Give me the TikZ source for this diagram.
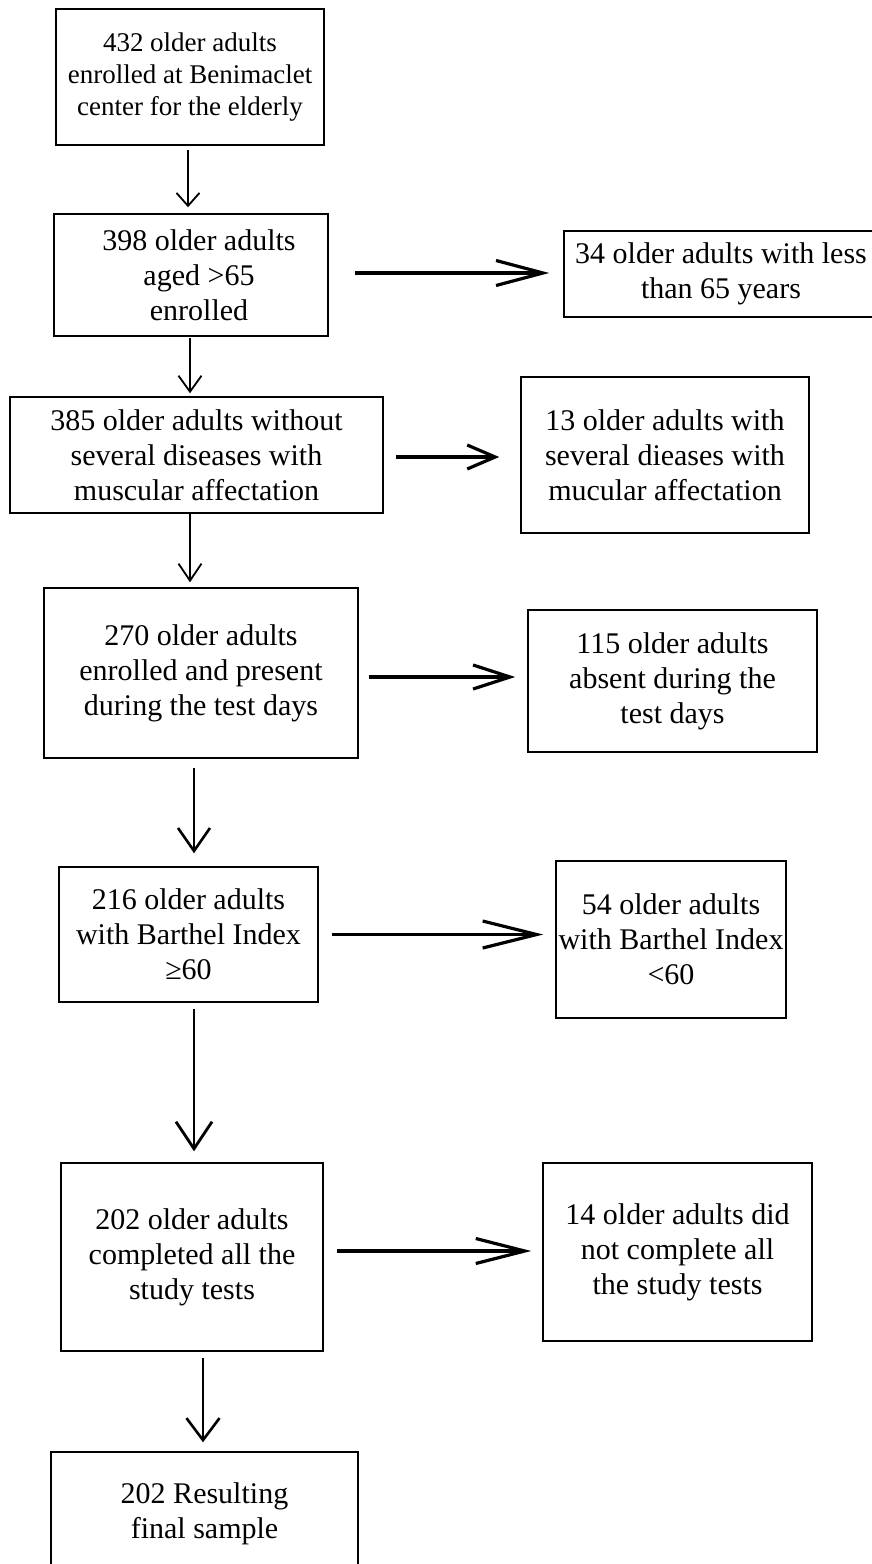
\documentclass[tikz,border=0pt]{standalone}
\usepackage{fontspec}
\setmainfont{Liberation Serif}
\usetikzlibrary{arrows.meta,calc}
\begin{document}
\begin{tikzpicture}[x=1pt,y=-1pt,
  box/.style={draw, line width=1.5pt, inner sep=0pt, align=center,
    font=\fontsize{30pt}{35pt}\selectfont},
  dnarr/.style n args={3}{line width=#3, -{Straight Barb[length=#1, width=#2]}},
]
\useasboundingbox (0,0) rectangle (872,1564);

% left column
\node[box, minimum width=268pt, minimum height=136pt, font=\fontsize{27pt}{32pt}\selectfont] (b1) at (190,77)
  {432 older adults\\enrolled at Benimaclet\\center for the elderly};
\node[box, minimum width=274pt, minimum height=122pt] (b2) at (191,275)
  {\hspace*{16pt}398 older adults\\\hspace*{16pt}aged >65\\\hspace*{16pt}enrolled};
\node[box, minimum width=373pt, minimum height=116pt] (b3) at (196.5,455)
  {385 older adults without\\several diseases with\\muscular affectation};
\node[box, minimum width=314pt, minimum height=170pt] (b4) at (201,673)
  {270 older adults\\enrolled and present\\during the test days};
\node[box, minimum width=259pt, minimum height=135pt] (b5) at (188.5,934.5)
  {216 older adults\\with Barthel Index\\≥60};
\node[box, minimum width=262pt, minimum height=188pt] (b6) at (192,1257)
  {202 older adults\\completed all the\\study tests};
\node[box, minimum width=307pt, minimum height=124pt] (b7) at (204.5,1514)
  {202 Resulting\\final sample};

% right column
\node[box, minimum width=314pt, minimum height=86pt] (r1) at (721,274)
  {34 older adults with less\\than 65 years};
\node[box, minimum width=288pt, minimum height=156pt] (r2) at (665,455)
  {13 older adults with\\several dieases with\\mucular affectation};
\node[box, minimum width=289pt, minimum height=142pt] (r3) at (672.5,681)
  {115 older adults\\absent during the\\test days};
\node[box, minimum width=230pt, minimum height=157pt] (r4) at (671,939.5)
  {54 older adults\\with Barthel Index\\<60};
\node[box, minimum width=269pt, minimum height=178pt] (r5) at (677.5,1252)
  {14 older adults did\\not complete all\\the study tests};

% downward connectors
\draw[dnarr={13pt}{23pt}{1.8pt}, shorten <=4pt, shorten >=6pt]
  ([xshift=-2pt]b1.south) -- ([xshift=-2pt]b1.south |- b2.north);
\draw[dnarr={16pt}{23pt}{1.8pt}, shorten <=1pt, shorten >=3pt]
  ([xshift=-1pt]b2.south) -- ([xshift=-1pt]b2.south |- b3.north);
\draw[dnarr={17pt}{23pt}{1.8pt}, shorten <=0pt, shorten >=5pt]
  ([xshift=-6.5pt]b3.south) -- ([xshift=-6.5pt]b3.south |- b4.north);
\draw[dnarr={23pt}{32pt}{2.6pt}, shorten <=9pt, shorten >=13pt]
  ([xshift=-7pt]b4.south) -- ([xshift=-7pt]b4.south |- b5.north);
\draw[dnarr={27pt}{36pt}{2.8pt}, shorten <=6pt, shorten >=11pt]
  ([xshift=5.5pt]b5.south) -- ([xshift=5.5pt]b5.south |- b6.north);
\draw[dnarr={22pt}{33pt}{2.6pt}, shorten <=6pt, shorten >=9pt]
  ([xshift=11pt]b6.south) -- ([xshift=11pt]b6.south |- b7.north);

% rightward connectors
\draw[dnarr={47pt}{25pt}{3.2pt}, shorten <=26pt, shorten >=14pt]
  ([yshift=2pt]b2.east) -- ([yshift=2pt]b2.east -| r1.west);
\draw[dnarr={28pt}{24pt}{3.2pt}, shorten <=12pt, shorten >=21pt]
  ([yshift=-2pt]b3.east) -- ([yshift=-2pt]b3.east -| r2.west);
\draw[dnarr={37pt}{24pt}{3.2pt}, shorten <=10pt, shorten >=12pt]
  ([yshift=-4pt]b4.east) -- ([yshift=-4pt]b4.east -| r3.west);
\draw[dnarr={54pt}{27pt}{3.2pt}, shorten <=13pt, shorten >=12pt]
  (b5.east) -- (b5.east -| r4.west);
\draw[dnarr={49pt}{25pt}{3.2pt}, shorten <=13pt, shorten >=11pt]
  ([yshift=6pt]b6.east) -- ([yshift=6pt]b6.east -| r5.west);
\end{tikzpicture}
\end{document}
